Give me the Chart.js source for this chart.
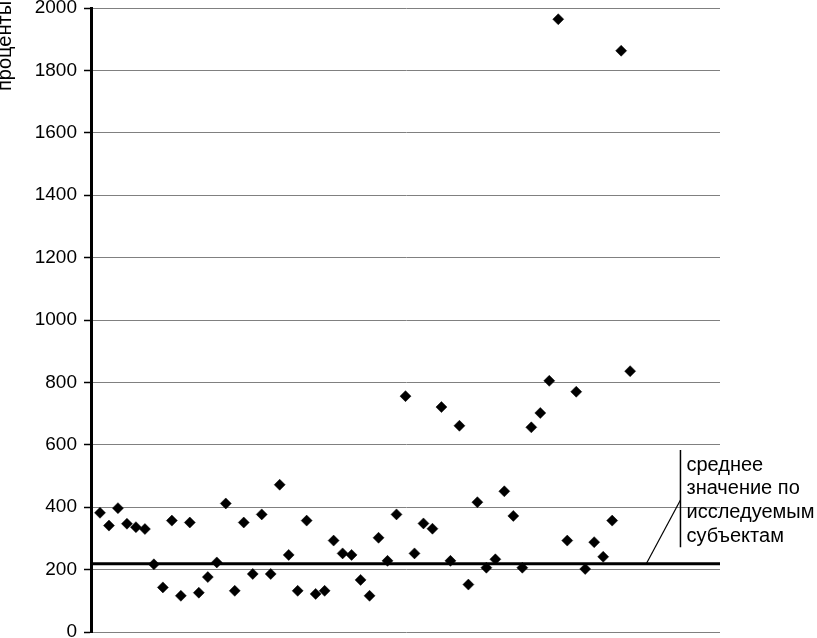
<!DOCTYPE html>
<html>
<head>
<meta charset="utf-8">
<script src="https://cdn.jsdelivr.net/npm/chart.js@4/dist/chart.umd.min.js"></script>
<style>
  html, body { margin: 0; padding: 0; background: #fff; }
  #wrap { width: 817px; height: 638px; position: relative; }
</style>
</head>
<body>
<div id="wrap"><canvas id="myChart"></canvas></div>
<script>
// данные с картинки
const subjects = [1,2,3,4,5,6,7,8,9,10,11,12,13,14,15,16,17,18,19,20,
  21,22,23,24,25,26,27,28,29,30,31,32,33,34,35,36,37,38,39,40,
  41,42,43,44,45,46,47,48,49,50,51,52,53,54,55,56,57,58,59,60];
const percentValues = [382,341,397,347,336,330,217,143,357,116,351,126,176,223,412,132,351,186,377,186,
  472,247,132,357,122,132,293,252,247,167,116,302,228,377,756,252,348,331,721,228,
  661,152,416,206,233,451,372,206,656,702,805,1964,293,770,202,288,241,357,1863,836];
const meanValue = 219;
const yTicks = [0,200,400,600,800,1000,1200,1400,1600,1800,2000];
const yTitle = 'проценты';
const calloutLines = ['среднее', 'значение по', 'исследуемым', 'субъектам'];

// выноска (в единицах осей)
const calloutX = 65.6, calloutTop = 583, calloutBottom = 272;
const leaderFrom = {x: 61.8, y: meanValue}, leaderTo = {x: 65.6, y: 423};

const FONT = '"Liberation Sans", Arial, sans-serif';

const points = subjects.map((s, i) => ({x: s, y: percentValues[i]}));

// подписи и название оси
const textPlugin = {
  id: 'texts',
  afterDraw(chart) {
    const ctx = chart.ctx;
    const xs = chart.scales.x, ys = chart.scales.y;
    ctx.save();
    ctx.fillStyle = '#000';
    ctx.font = '20px ' + FONT;
    ctx.textAlign = 'left';
    ctx.textBaseline = 'middle';
    const tx = xs.getPixelForValue(calloutX) + 6;
    const top = ys.getPixelForValue(calloutTop);
    calloutLines.forEach((t, i) => ctx.fillText(t, tx, top + 15 + i * 23.7));
    // название оси Y
    ctx.translate(11, 46);
    ctx.rotate(-Math.PI / 2);
    ctx.textAlign = 'center';
    ctx.textBaseline = 'alphabetic';
    ctx.fillText(yTitle, 0, 0);
    ctx.restore();
  }
};

const ctx = document.getElementById('myChart').getContext('2d');
const newChart = new Chart(ctx, {
  type: 'scatter',
  data: {
    datasets: [
      {
        data: points,
        pointStyle: 'rectRot',
        pointRadius: 5.5,
        backgroundColor: '#000',
        borderColor: '#000',
        borderWidth: 0.5,
        order: 1
      },
      {
        type: 'line',
        data: [{x: 0, y: meanValue}, {x: 70, y: meanValue}],
        borderColor: '#000',
        borderWidth: 3,
        pointRadius: 0,
        order: 2
      },
      {
        type: 'line',
        data: [{x: calloutX, y: calloutTop}, {x: calloutX, y: calloutBottom}],
        borderColor: '#000',
        borderWidth: 1.5,
        pointRadius: 0
      },
      {
        type: 'line',
        data: [leaderFrom, leaderTo],
        borderColor: '#000',
        borderWidth: 1.2,
        pointRadius: 0
      }
    ]
  },
  options: {
    responsive: true,
    maintainAspectRatio: false,
    animation: false,
    layout: { padding: { top: 8, bottom: 6, left: 0, right: 97 } },
    plugins: { legend: { display: false }, tooltip: { enabled: false } },
    scales: {
      x: {
        type: 'linear',
        min: 0,
        max: 70,
        display: false
      },
      y: {
        min: 0,
        max: 2000,
        afterBuildTicks(scale) { scale.ticks = yTicks.map(v => ({value: v})); },
        afterFit(scale) {
          scale.width = 91;
          scale.paddingTop = 0;
          scale.paddingBottom = 0;
        },
        grid: { color: '#808080', lineWidth: 1, tickColor: '#000', tickLength: 7, tickWidth: 1.5 },
        border: { display: true, color: '#000', width: 3 },
        ticks: {
          color: '#000',
          padding: 7,
          font: { family: FONT, size: 19 },
          callback: v => String(v)
        }
      }
    }
  },
  plugins: [textPlugin]
});
</script>
</body>
</html>
